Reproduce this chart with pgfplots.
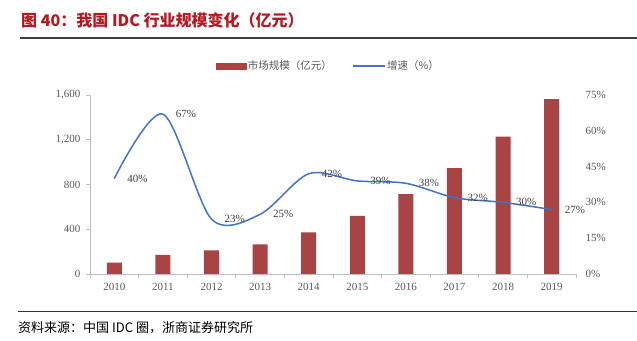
\documentclass[border=0pt]{standalone}
\usepackage{fontspec}
\setmainfont{Liberation Serif}
\newfontfamily\cjk{Noto Sans CJK SC}
\usepackage{pgfplots}
\pgfplotsset{compat=1.18}
\definecolor{barred}{RGB}{168,68,68}
\definecolor{lineblue}{RGB}{68,114,196}
\definecolor{titlered}{RGB}{180,24,32}
\definecolor{axgray}{RGB}{191,191,191}
\definecolor{txtgray}{RGB}{89,89,89}
\begin{document}
\begin{tikzpicture}
\path[use as bounding box] (0pt,0pt) rectangle (637pt,340pt);
\node[anchor=west, inner sep=0, text=titlered, font=\cjk\bfseries\fontsize{16}{19}\selectfont] at (21pt,320pt) {图 40：我国 IDC 行业规模变化（亿元）};
\draw[line width=1.3pt, black!75] (20pt,302pt) -- (637pt,302pt);
\draw[line width=1pt, black!80] (18pt,28pt) -- (637pt,28pt);
\node[anchor=west, inner sep=0, font=\cjk\fontsize{13}{15}\selectfont] at (18pt,12pt) {资料来源：中国 IDC 圈，浙商证券研究所};

\begin{axis}[at={(90pt,66pt)}, anchor=south west, scale only axis,
  width=486pt, height=179pt,
  xmin=-0.5, xmax=9.5, ymin=0, ymax=1600,
  axis x line*=bottom, axis y line*=left,
  axis line style={draw=axgray, line width=0.8pt},
  tick style={draw=axgray, line width=0.8pt},
  tick align=outside, major tick length=4pt,
  xtick={-0.5,0.5,1.5,2.5,3.5,4.5,5.5,6.5,7.5,8.5,9.5},
  x tick label as interval,
  xticklabels={2010,2011,2012,2013,2014,2015,2016,2017,2018,2019},
  ytick={0,400,800,1200,1600},
  /pgf/number format/assume math mode=true,
  ticklabel style={font=\fontsize{11}{13}\selectfont, text=txtgray},
  yticklabel style={xshift=-2pt},
  xticklabel style={yshift=-2pt},
  ]
\addplot[ybar, bar width=15pt, fill=barred, draw=none] coordinates {(0,102)(1,171)(2,211)(3,265)(4,372)(5,519)(6,715)(7,946)(8,1228)(9,1563)};
\end{axis}

\begin{axis}[at={(90pt,66pt)}, anchor=south west, scale only axis,
  width=486pt, height=179pt,
  xmin=-0.5, xmax=9.5, ymin=0, ymax=75,
  axis x line=none, axis y line*=right,
  y axis line style={draw=none},
  major tick length=0pt,
  ytick={0,15,30,45,60,75},
  yticklabel={\pgfmathprintnumber{\tick}\%},
  /pgf/number format/assume math mode=true,
  ticklabel style={font=\fontsize{11}{13}\selectfont, text=txtgray},
  yticklabel style={xshift=6pt},
  legend style={draw=none, fill=none, at={(0.49,1.162)}, anchor=center,
    legend columns=2, font=\cjk\fontsize{10.5}{12}\selectfont, text=txtgray,
    /tikz/every even column/.append style={column sep=18pt}},
  ]
\addlegendimage{legend image code/.code={\fill[barred] (0pt,-3pt) rectangle (30pt,3pt);}}
\addlegendentry{市场规模（亿元）}
\addplot[lineblue, line width=1.5pt, smooth, tension=0.5, mark=none,
  legend image code/.code={\draw[lineblue, line width=1.2pt] (0pt,0pt) -- (32pt,0pt);},
  point meta=y,
  nodes near coords={\pgfmathprintnumber{\pgfplotspointmeta}\%},
  every node near coord/.append style={anchor=west, xshift=9pt, font=\fontsize{11}{13}\selectfont, text=black!75}]
  coordinates {(0,40)(1,67)(2,23)(3,25)(4,42)(5,39)(6,38)(7,32)(8,30)(9,27)};
\addlegendentry{增速（\%）}
\end{axis}
\end{tikzpicture}
\end{document}
